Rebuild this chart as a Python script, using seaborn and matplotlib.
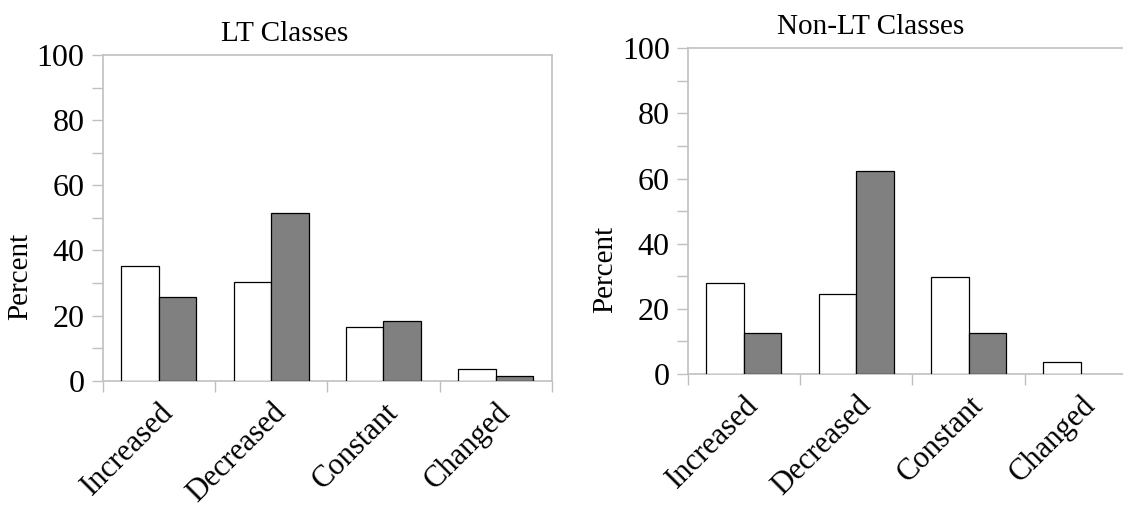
import pandas as pd
import matplotlib
matplotlib.use('Agg')
import matplotlib.pyplot as plt
import seaborn as sns
from matplotlib.ticker import MultipleLocator, FixedLocator

# Data
categories = ['Increased', 'Decreased', 'Constant', 'Changed']
groups = ['A', 'B']
lt_white = [35.3, 30.2, 16.4, 3.7]
lt_gray = [25.8, 51.4, 18.4, 1.4]
nonlt_white = [28.0, 24.5, 29.8, 3.6]
nonlt_gray = [12.5, 62.4, 12.5, 0.0]
titles = ['LT Classes', 'Non-LT Classes']

sns.set_theme(style='white')
plt.rcParams['font.family'] = ['Liberation Serif', 'DejaVu Serif']
plt.rcParams['text.color'] = 'black'
plt.rcParams['axes.labelcolor'] = 'black'
plt.rcParams['xtick.labelcolor'] = 'black'
plt.rcParams['ytick.labelcolor'] = 'black'

spine_col = '#c0c0c0'
fs = 21
tick_fs = 23
xlab_fs = 22


def make_df(white, gray):
    df = pd.DataFrame({'category': categories * 2,
                       'group': [groups[0]] * 4 + [groups[1]] * 4,
                       'value': white + gray})
    return df


def draw_panel(ax, df, title):
    sns.barplot(data=df, x='category', y='value', hue='group', order=categories,
                hue_order=groups, palette=['white', '#808080'], width=0.667,
                edgecolor='black', linewidth=0.9, legend=False, ax=ax, zorder=3)
    # hide zero height bars (no outline line at the baseline)
    for bar in ax.patches:
        if bar.get_height() == 0:
            bar.set_linewidth(0)

    ax.set_xlim(-0.5, 3.5)
    ax.set_ylim(0, 100)
    # title is centred over the whole chart area, not just the plot box
    ax.set_title(title, fontsize=fs, pad=10, x=0.406, color='black')
    ax.set_ylabel('Percent', fontsize=fs, color='black')
    ax.yaxis.set_label_coords(-0.155, 0.32)
    ax.set_xlabel('')

    # y ticks
    ax.yaxis.set_major_locator(MultipleLocator(20))
    ax.yaxis.set_minor_locator(MultipleLocator(10))
    ax.tick_params(axis='y', which='both', left=True, direction='out', length=8,
                   width=1, color=spine_col, labelsize=tick_fs, pad=5)

    # x ticks: labels at centres, tick marks at group boundaries
    ax.set_xticks(range(len(categories)))
    ax.set_xticklabels(categories, rotation=45, ha='right', rotation_mode='anchor', fontsize=xlab_fs)
    ax.xaxis.set_minor_locator(FixedLocator([-0.5, 0.5, 1.5, 2.5, 3.5]))
    ax.tick_params(axis='x', which='major', length=0, pad=12)
    ax.tick_params(axis='x', which='minor', bottom=True, direction='out', length=8,
                   width=1, color=spine_col)

    for s in ax.spines.values():
        s.set_visible(True)
        s.set_color(spine_col)
        s.set_linewidth(1.2)
    ax.grid(False)


fig = plt.figure(figsize=(11.23, 5.07), dpi=100)
ax1 = fig.add_axes([0.0914, 0.2491, 0.4001, 0.6424])
ax2 = fig.add_axes([0.6124, 0.2623, 0.4001, 0.6424])

draw_panel(ax1, make_df(lt_white, lt_gray), titles[0])
draw_panel(ax2, make_df(nonlt_white, nonlt_gray), titles[1])

fig.savefig('out.png', dpi=100)
